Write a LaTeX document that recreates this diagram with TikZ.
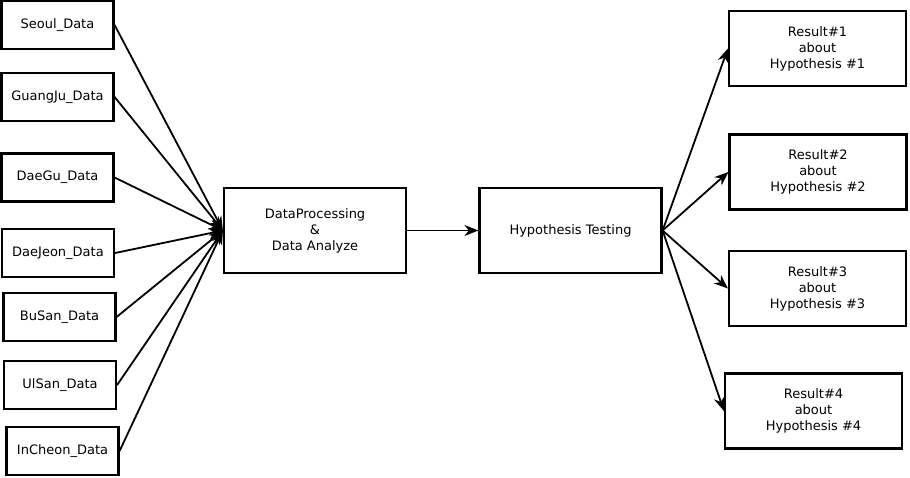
\documentclass[tikz,border=0pt]{standalone}
\usepackage{fontspec}
\setmainfont{DejaVu Sans}
\usetikzlibrary{arrows.meta}
\begin{document}
\begin{tikzpicture}
[x=1pt, y=-1pt, color=black, line width=2.2pt,
 box/.style={draw, rectangle, align=center, inner sep=0pt,
   font=\fontsize{13}{16}\selectfont},
 databox/.style={box, minimum width=112pt, minimum height=48pt},
 stepbox/.style={box, minimum width=182pt, minimum height=85pt},
 resbox/.style={box, minimum width=177pt, minimum height=75pt},
 link/.style={line width=1.8pt, -{Stealth[length=14pt,width=11pt,inset=4.5pt]}}]
\useasboundingbox (0,0) rectangle (910,478);
% city data
  \node [databox] (seoul) at (57.5,25) {Seoul\_Data};
  \node [databox] (guangju) at (57.5,97) {GuangJu\_Data};
  \node [databox] (daegu) at (57.5,177.5) {DaeGu\_Data};
  \node [databox] (daejeon) at (58,253) {DaeJeon\_Data};
  \node [databox] (busan) at (59.5,317) {BuSan\_Data};
  \node [databox] (ulsan) at (60,385) {UlSan\_Data};
  \node [databox] (incheon) at (62.5,451) {InCheon\_Data};
% processing
  \node [stepbox] (proc) at (315,230.5) {DataProcessing\\\&\\Data Analyze};
  \node [stepbox] (test) at (570.5,230.5) {Hypothesis Testing};
% results
  \node [resbox] (res1) at (817.5,48.5) {Result\#1\\about\\Hypothesis \#1};
  \node [resbox] (res2) at (818,172) {Result\#2\\about\\Hypothesis \#2};
  \node [resbox] (res3) at (817.5,288.5) {Result\#3\\about\\Hypothesis \#3};
  \node [resbox] (res4) at (813.5,411) {Result\#4\\about\\Hypothesis \#4};
  \foreach \from in {seoul,guangju,daegu,daejeon,busan,ulsan,incheon}
  \draw [link] (\from.east) -- (proc.west);
  \draw [link] (proc) -- (test);
  \foreach \to in {res1,res2,res3,res4}
  \draw [link] (test.east) -- (\to.west);
\end{tikzpicture}
\end{document}
